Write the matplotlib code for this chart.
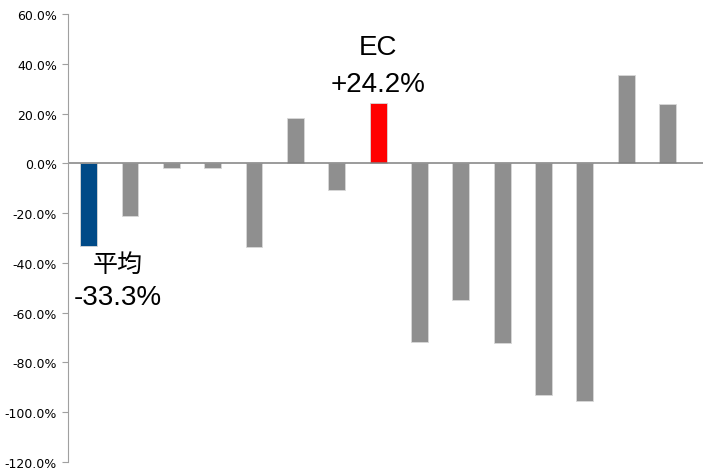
import matplotlib.pyplot as plt
from matplotlib.ticker import FuncFormatter

# bar values in percent (first bar = average, eighth = EC)
values = [-33.3, -21.3, -2.0, -2.0, -33.6, 18.1, -10.8, 24.2,
          -71.8, -55.0, -72.3, -93.2, -95.6, 35.5, 23.7]
colors = ['#004a87'] + ['#8f8f8f'] * 6 + ['#ff0000'] + ['#8f8f8f'] * 7
yticks = [60, 40, 20, 0, -20, -40, -60, -80, -100, -120]

fig = plt.figure(figsize=(7.03, 4.77), dpi=100)
ax = fig.add_axes([0.0967, 0.0294, 0.9033, 0.9392])

x = range(len(values))
ax.bar(x, values, width=0.41, color=colors, edgecolor='#d8d8d8', linewidth=0.6)
ax.axhline(0, color='#808080', linewidth=1.1)

ax.set_xlim(-0.5, 14.86)
ax.set_ylim(-120, 60)
ax.set_yticks(yticks)
ax.yaxis.set_major_formatter(FuncFormatter(lambda v, p: f'{v:.1f}%'))
ax.tick_params(axis='y', direction='out', length=4, color='#a0a0a0',
               labelsize=9, pad=4)
ax.set_xticks([])
for s in ['top', 'right', 'bottom']:
    ax.spines[s].set_visible(False)
ax.spines['left'].set_color('#a0a0a0')

fam = ['Liberation Sans', 'Noto Sans CJK JP']
ax.text(7, 46.6, 'EC', ha='center', va='center', fontsize=20, family=fam)
ax.text(7, 31.7, '+24.2%', ha='center', va='center', fontsize=20, family=fam)
ax.text(0.71, -40.6, '平均', ha='center', va='center', fontsize=18,
        family=['Noto Sans CJK JP', 'Liberation Sans'])
ax.text(0.71, -53.8, '-33.3%', ha='center', va='center', fontsize=20, family=fam)

fig.savefig('out.png', dpi=100)
